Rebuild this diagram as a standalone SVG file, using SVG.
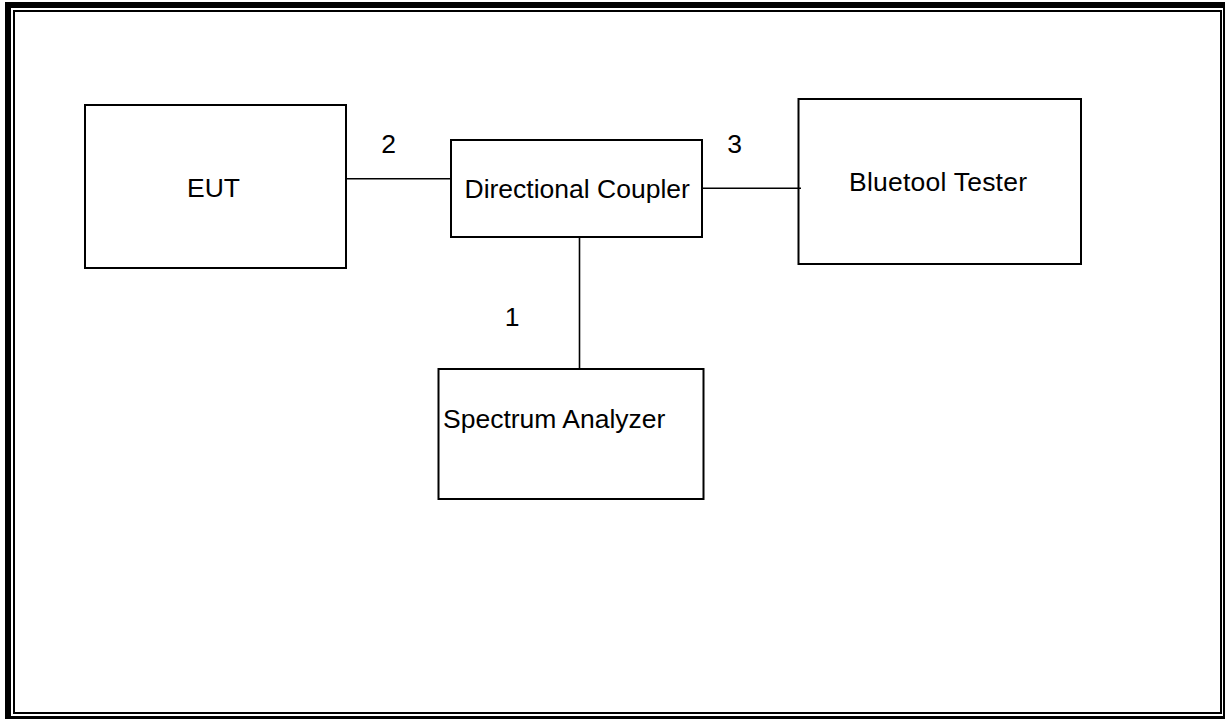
<svg xmlns="http://www.w3.org/2000/svg" width="1225" height="719" viewBox="0 0 1225 719">
  <style>
    .box { fill: #fff; stroke: #000; stroke-width: 2; }
    .lbl { font-family: "Liberation Sans", Arial, sans-serif; font-size: 26.5px; fill: #000; }
    .wire { stroke: #000; stroke-width: 1.6; fill: none; }
  </style>
  <rect x="0" y="0" width="1225" height="719" fill="#fff"/>
  <g id="frame">
    <rect x="8" y="5" width="1218" height="714" fill="none" stroke="#000" stroke-width="6"/>
    <rect x="14" y="11" width="1207" height="702" fill="none" stroke="#000" stroke-width="2"/>
  </g>
  <g id="eut">
    <rect class="box" x="85" y="105" width="261" height="163"/>
    <text class="lbl" x="187" y="197.3">EUT</text>
  </g>
  <g id="coupler">
    <rect class="box" x="451" y="140" width="251" height="97"/>
    <text class="lbl" x="464.5" y="198.3">Directional Coupler</text>
  </g>
  <g id="tester">
    <rect class="box" x="798.5" y="99" width="282.5" height="165"/>
    <text class="lbl" x="849" y="191" textLength="178">Bluetool Tester</text>
  </g>
  <g id="analyzer">
    <rect class="box" x="438.5" y="369" width="265" height="130"/>
    <text class="lbl" x="443" y="427.7">Spectrum Analyzer</text>
  </g>
  <g id="connectors">
    <line class="wire" x1="346" y1="178.7" x2="451" y2="178.7"/>
    <line class="wire" x1="702" y1="188.3" x2="801" y2="188.3"/>
    <line class="wire" x1="579.5" y1="237" x2="579.5" y2="369"/>
    <text class="lbl" x="388.5" y="152.5" text-anchor="middle">2</text>
    <text class="lbl" x="734.5" y="153" text-anchor="middle">3</text>
    <text class="lbl" x="512" y="326" text-anchor="middle">1</text>
  </g>
</svg>
